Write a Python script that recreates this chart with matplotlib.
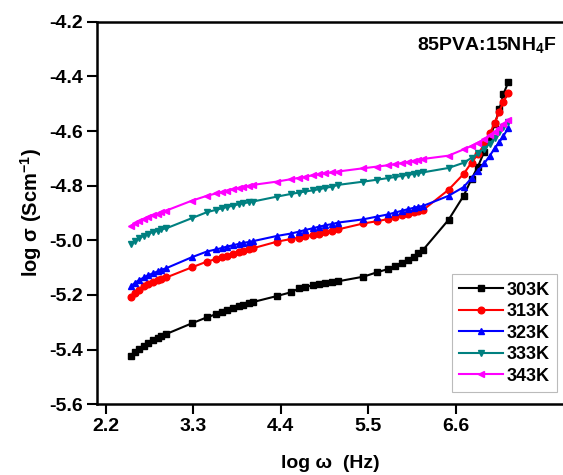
import numpy as np
import matplotlib
matplotlib.use('Agg')
import matplotlib.pyplot as plt

plt.rcParams['font.family'] = ['Liberation Sans', 'DejaVu Sans']
plt.rcParams['font.weight'] = 'bold'
plt.rcParams['mathtext.fontset'] = 'custom'
plt.rcParams['mathtext.rm'] = 'Liberation Sans'
plt.rcParams['mathtext.bf'] = 'Liberation Sans:bold'
plt.rcParams['mathtext.default'] = 'bf'

# log frequency (common to all temperatures)
log_w = [2.52, 2.57, 2.62, 2.68, 2.73, 2.79, 2.85, 2.90, 2.96, 3.28, 3.47,
         3.59, 3.66, 3.72, 3.80, 3.87, 3.93, 4.00, 4.05, 4.35, 4.53,
         4.63, 4.71, 4.80, 4.88, 4.96, 5.05, 5.12, 5.44, 5.61,
         5.75, 5.84, 5.92, 6.00, 6.07, 6.13, 6.19, 6.51, 6.70,
         6.80, 6.88, 6.96, 7.03, 7.09, 7.15, 7.20, 7.26]

s303 = [-5.422, -5.410, -5.398, -5.386, -5.375, -5.366, -5.357, -5.350, -5.343, -5.304, -5.282,
        -5.270, -5.262, -5.255, -5.248, -5.241, -5.236, -5.230, -5.226, -5.204, -5.190,
        -5.176, -5.170, -5.165, -5.160, -5.156, -5.153, -5.150, -5.133, -5.117,
        -5.105, -5.094, -5.082, -5.072, -5.060, -5.047, -5.035, -4.925, -4.837,
        -4.775, -4.730, -4.675, -4.625, -4.575, -4.520, -4.465, -4.422]
s313 = [-5.206, -5.192, -5.180, -5.168, -5.160, -5.152, -5.146, -5.141, -5.136, -5.099, -5.078,
        -5.068, -5.062, -5.056, -5.050, -5.043, -5.038, -5.033, -5.029, -5.005, -4.995,
        -4.990, -4.985, -4.980, -4.975, -4.970, -4.965, -4.960, -4.938, -4.930,
        -4.922, -4.915, -4.909, -4.903, -4.897, -4.893, -4.889, -4.815, -4.757,
        -4.715, -4.685, -4.648, -4.608, -4.571, -4.529, -4.492, -4.461]
s323 = [-5.167, -5.155, -5.145, -5.136, -5.128, -5.121, -5.114, -5.108, -5.102, -5.062, -5.041,
        -5.033, -5.028, -5.023, -5.018, -5.013, -5.009, -5.006, -5.003, -4.984, -4.975,
        -4.968, -4.962, -4.956, -4.950, -4.945, -4.940, -4.935, -4.923, -4.913,
        -4.905, -4.898, -4.892, -4.886, -4.881, -4.877, -4.874, -4.837, -4.805,
        -4.772, -4.745, -4.718, -4.690, -4.663, -4.640, -4.618, -4.589]
s333 = [-5.014, -5.002, -4.992, -4.983, -4.976, -4.970, -4.965, -4.960, -4.956, -4.919, -4.897,
        -4.888, -4.883, -4.878, -4.873, -4.868, -4.864, -4.861, -4.858, -4.840, -4.830,
        -4.825, -4.821, -4.817, -4.813, -4.808, -4.803, -4.797, -4.785, -4.778,
        -4.772, -4.768, -4.764, -4.760, -4.757, -4.754, -4.751, -4.735, -4.716,
        -4.698, -4.682, -4.664, -4.646, -4.626, -4.605, -4.586, -4.565]
s343 = [-4.946, -4.937, -4.929, -4.921, -4.914, -4.908, -4.902, -4.896, -4.891, -4.855, -4.837,
        -4.828, -4.823, -4.818, -4.813, -4.808, -4.804, -4.800, -4.797, -4.785, -4.776,
        -4.771, -4.767, -4.762, -4.758, -4.754, -4.751, -4.748, -4.736, -4.730,
        -4.725, -4.721, -4.717, -4.713, -4.709, -4.706, -4.702, -4.690, -4.667,
        -4.654, -4.642, -4.630, -4.616, -4.602, -4.589, -4.575, -4.559]

labels = ['303K', '313K', '323K', '333K', '343K']
x_ticks = [2.2, 3.3, 4.4, 5.5, 6.6]
y_ticks = [-5.6, -5.4, -5.2, -5.0, -4.8, -4.6, -4.4, -4.2]

series = [s303, s313, s323, s333, s343]
colors = ['black', '#ff0000', '#0000ff', '#008080', '#ff00ff']
markers = ['s', 'o', '^', 'v', '<']

fig = plt.figure(figsize=(5.63, 4.75), dpi=100)
ax = fig.add_axes([0.172, 0.149, 0.828, 0.805])

for ys, c, m, lab in zip(series, colors, markers, labels):
    ax.plot(log_w, ys, color=c, marker=m, markersize=4.8, linewidth=1.5, label=lab)

ax.set_xlim(2.087, 7.95)
ax.set_ylim(-5.6, -4.2)
ax.set_xticks(x_ticks)
ax.set_xticklabels([f'{t:.1f}' for t in x_ticks])
ax.set_yticks(y_ticks)
ax.set_yticklabels([f'{t:.1f}' for t in y_ticks])
ax.tick_params(direction='out', length=7, width=1.5, labelsize=14, pad=3)
ax.spines['right'].set_visible(False)
for sp in ax.spines.values():
    sp.set_linewidth(1.8)

ax.set_xlabel('log \u03c9  (Hz)', fontsize=14, fontweight='bold', labelpad=14)
ax.set_ylabel('log \u03c3 (Scm$^{-1}$)', fontsize=14.5, fontweight='bold', labelpad=4)

ax.text(0.987, 0.94, '85PVA:15NH$_4$F', transform=ax.transAxes, ha='right', va='center',
        fontsize=14, fontweight='bold')

leg = ax.legend(loc='lower right', bbox_to_anchor=(0.988, 0.032), fontsize=13,
                handlelength=2.4, handletextpad=0.25, borderpad=0.4, labelspacing=0.25,
                fancybox=False, edgecolor='#aaaaaa', borderaxespad=0)
leg.get_frame().set_linewidth(0.8)

fig.savefig('out.png', dpi=100)
